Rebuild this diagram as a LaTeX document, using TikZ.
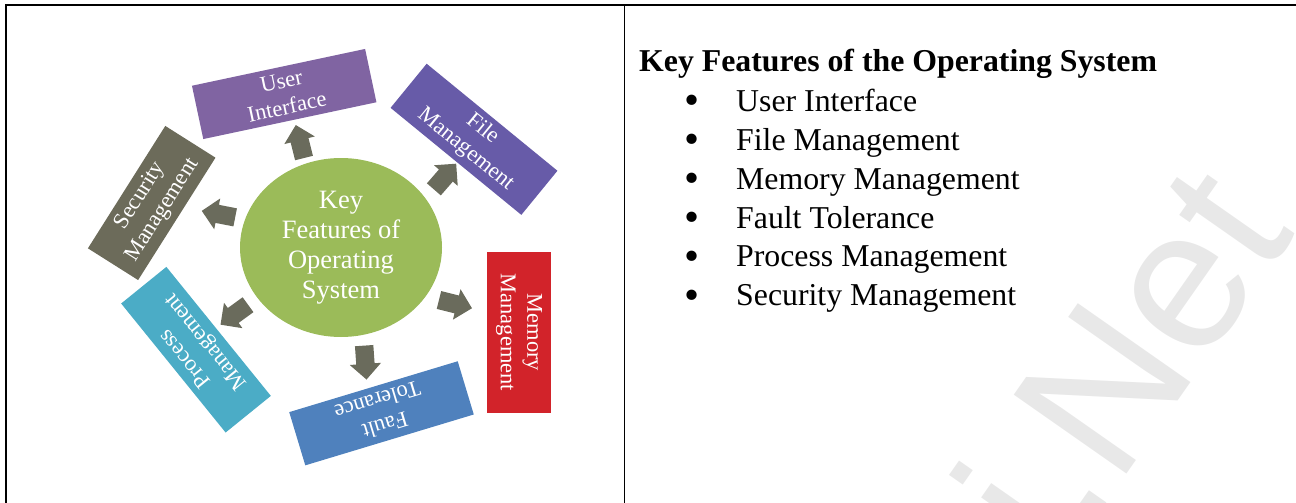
\documentclass[tikz,border=0pt]{standalone}
\usepackage{fontspec}
\setmainfont{Liberation Serif}
\newfontfamily\wmfont{Liberation Sans}
\usetikzlibrary{shapes.geometric,shapes.arrows}

\definecolor{uiPurple}{HTML}{8064A2}
\definecolor{filePurple}{HTML}{675BA8}
\definecolor{memRed}{HTML}{D2232A}
\definecolor{faultBlue}{HTML}{4F81BD}
\definecolor{procTeal}{HTML}{4BACC6}
\definecolor{secGray}{HTML}{6C6B5A}
\definecolor{arrowGray}{HTML}{6A6B5C}
\definecolor{hubGreen}{HTML}{9BBB59}
\definecolor{markGray}{HTML}{E8E8E8}

\begin{document}
\begin{tikzpicture}[x=1pt,y=-1pt,
  feature/.style={rectangle, fill=#1, text=white, align=center, inner sep=0pt,
    font=\fontsize{22.5}{26.5}\selectfont},
  hub/.style={ellipse, fill=hubGreen, text=white, align=center, inner sep=0pt,
    minimum width=202pt, minimum height=179pt, font=\fontsize{26.5}{30}\selectfont},
  blockarr/.style={single arrow, fill=arrowGray, draw=none, minimum height=34pt,
    inner xsep=0pt, inner ysep=9pt, single arrow head extend=6.5pt,
    single arrow head indent=0pt},
  heading/.style={anchor=base west, inner sep=0pt, font=\bfseries\fontsize{31.8}{38}\selectfont},
  entry/.style={anchor=base west, inner sep=0pt, font=\fontsize{31.8}{38}\selectfont},
  dot/.style={anchor=base, inner sep=0pt, font=\fontsize{43}{43}\selectfont},
  frame/.style={line width=1.6pt, black}]

\useasboundingbox (0,0) rectangle (1296,503);

% faint watermark behind the right column
\begin{scope}
  \clip (0,0) rectangle (1296,503);
  \node[anchor=base west, rotate=55, text=markGray, inner sep=0pt,
        font=\wmfont\fontsize{200}{200}\selectfont] (wm) at (1060,570) {i.Net};
\end{scope}

% table rules
\draw[frame] (6,503) -- (6,5) -- (1296,5);
\draw[frame] (624.5,5) -- (624.5,503);

% central hub
\node[hub] (hub) at (341,247.5) {Key\\Features of\\Operating\\System};

% feature boxes around the hub
\node[feature=uiPurple, rotate=12, minimum width=177pt, minimum height=54.5pt]
  (ui) at (284.2,94) {User\\Interface};
\node[feature=filePurple, rotate=-39.3, minimum width=169pt, minimum height=57pt]
  (file) at (474,139.3) {File\\Management};
\node[feature=memRed, rotate=-90, minimum width=160.7pt, minimum height=63.7pt]
  (mem) at (519,332.3) {Memory\\Management};
\node[feature=faultBlue, rotate=196.8, minimum width=176pt, minimum height=55.6pt]
  (fault) at (381.5,413.3) {Fault\\Tolerance};
\node[feature=procTeal, rotate=129, minimum width=166pt, minimum height=58.2pt]
  (proc) at (196,349.7) {Process\\Management};
\node[feature=secGray, rotate=57.7, minimum width=144.8pt, minimum height=59.4pt]
  (sec) at (151.7,203) {Security\\Management};

% block arrows pointing outwards from the hub
\node[blockarr, rotate=104] (toUi) at (301,146) {};
\node[blockarr, rotate=49] (toFile) at (442,180) {};
\node[blockarr, rotate=-14] (toMem) at (451,303) {};
\node[blockarr, rotate=-86] (toFault) at (365,358) {};
\node[blockarr, rotate=216] (toProc) at (238,312) {};
\node[blockarr, rotate=169] (toSec) at (223,215) {};

% right column: heading and bulleted list
\node[heading] (title) at (639,72) {Key Features of the Operating System};
\foreach \i/\txt in {0/User Interface, 1/File Management, 2/Memory Management,
                     3/Fault Tolerance, 4/Process Management, 5/Security Management}{
  \node[dot] (b\i) at (692,114.5+38.9*\i) {•};
  \node[entry] (item\i) at (736,111.3+38.9*\i) {\txt};
}
\end{tikzpicture}
\end{document}
